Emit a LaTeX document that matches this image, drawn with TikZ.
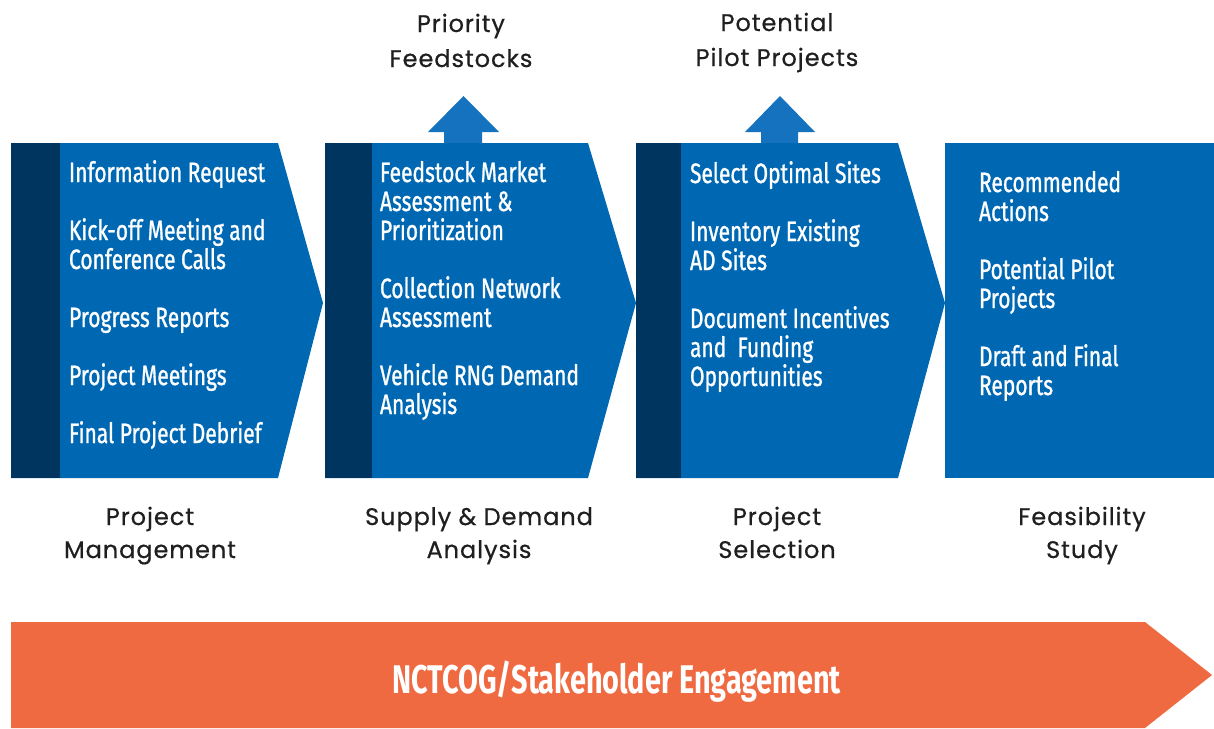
\documentclass[tikz,border=0pt]{standalone}
\usepackage{fontspec}
\setmainfont{Poppins}[LetterSpace=4,FakeBold=0.6]
\newfontfamily\condfont[FakeStretch=0.75,FakeBold=1]{Fira Sans}
\newfontfamily\bandfont[FakeStretch=0.72]{Fira Sans}
\definecolor{stageblue}{HTML}{0068B3}
\definecolor{navy}{HTML}{00355F}
\definecolor{arrowblue}{HTML}{1572BE}
\definecolor{engage}{HTML}{F06A41}
\begin{document}
\begin{tikzpicture}[x=1pt,y=-1pt,
  every node/.style={inner sep=0pt,outer sep=0pt},
  stage/.style={fill=stageblue},
  sidebar/.style={fill=navy},
  outarrow/.style={fill=arrowblue},
  % multi-line nodes are placed by the baseline of their last line
  items/.style={anchor=base west,align=left,text=white,
    font=\condfont\fontsize{28}{29}\selectfont},
  stagecaption/.style={anchor=base,align=center,text=black!88,
    font=\fontsize{24}{33}\selectfont},
  result/.style={anchor=base,align=center,text=black!88,
    font=\fontsize{24}{35}\selectfont}]
\useasboundingbox (0,0) rectangle (1214,728);

% outputs rising from the middle stages
\fill[outarrow] (444,143) -- (444,132) -- (428,132) -- (463.5,96) -- (499,132) -- (482,132) -- (482,143) -- cycle;
\fill[outarrow] (761,143) -- (761,132) -- (745,132) -- (780,96) -- (815,132) -- (798,132) -- (798,143) -- cycle;

% stage 1
\fill[stage] (11,143) -- (278,143) -- (323,303) -- (278,478) -- (11,478) -- cycle;
\fill[sidebar] (11,143) rectangle (60,478);
% stage 2
\fill[stage] (325,143) -- (588,143) -- (636,303) -- (588,478) -- (325,478) -- cycle;
\fill[sidebar] (325,143) rectangle (372,478);
% stage 3
\fill[stage] (636,143) -- (898,143) -- (945,303) -- (898,478) -- (636,478) -- cycle;
\fill[sidebar] (636,143) rectangle (681,478);
% stage 4
\fill[stage] (945,143) rectangle (1214,478);

\node[items] (pm) at (69,443) {Information Request\\[29pt]Kick-off Meeting and\\Conference Calls\\[29pt]Progress Reports\\[29pt]Project Meetings\\[29pt]Final Project Debrief};
\node[items] (sd) at (380,414) {Feedstock Market\\Assessment \&\\Prioritization\\[29pt]Collection Network\\Assessment\\[29pt]Vehicle RNG Demand\\Analysis};
\node[items] (ps) at (690,386) {Select Optimal Sites\\[29pt]Inventory Existing\\AD Sites\\[29pt]Document Incentives\\and~ Funding\\Opportunities};
\node[items] (fs) at (979,395) {Recommended\\Actions\\[29pt]Potential Pilot\\Projects\\[29pt]Draft and Final\\Reports};

\node[result] (pf) at (461,67) {Priority\\Feedstocks};
\node[result] (pp) at (777,66) {Potential\\Pilot Projects};

\node[stagecaption] (c1) at (150,558) {Project\\Management};
\node[stagecaption] (c2) at (479,558) {Supply \& Demand\\Analysis};
\node[stagecaption] (c3) at (777,558) {Project\\Selection};
\node[stagecaption] (c4) at (1082,558) {Feasibility\\Study};

% engagement band along the bottom
\fill[engage] (11,622) -- (1145,622) -- (1212,675) -- (1145,728) -- (11,728) -- cycle;
\node[anchor=base,text=white,font=\bandfont\bfseries\fontsize{40}{40}\selectfont] (eng) at (616.5,693) {NCTCOG/Stakeholder Engagement};
\end{tikzpicture}
\end{document}
